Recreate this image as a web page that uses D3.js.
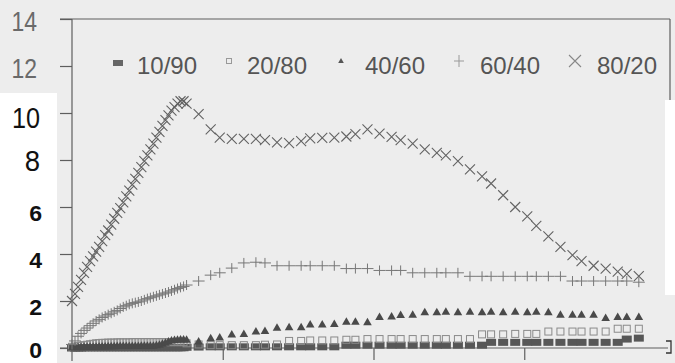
<!DOCTYPE html>
<html><head><meta charset="utf-8">
<script src="https://cdn.jsdelivr.net/npm/d3@7"></script>
<style>html,body{margin:0;padding:0;background:#fff;overflow:hidden} svg{display:block}</style>
</head><body>
<svg id="c" width="675" height="363"></svg>
<script>
// ---- data ----
const seriesNames = ["10/90", "20/80", "40/60", "60/40", "80/20"];
const time = [0,1,2,3,4,5,6,7,8,9,10,11,12,13,14,15,16,17,18,19,20,21,22,23,24,25,26,27,28,29,30,31,32,33,34,35,36,37,
  38,42,46,49,53,57,61,64,68,72,76,79,83,87,91,94,98,102,106,109,113,117,121,124,128,132,136,139,143,147,151,154,158,162,166,169,173,177,181,184,188];
const s1090 = [0.0,0.0,0.0,0.0,0.01,0.01,0.01,0.01,0.01,0.01,0.01,0.01,0.01,0.01,0.01,0.01,0.01,0.01,0.01,0.01,0.01,0.01,0.01,0.01,0.01,0.01,0.01,0.01,0.01,0.01,0.01,0.01,0.01,0.01,0.01,0.01,0.01,0.01,
  0.03,0.04,0.05,0.05,0.05,0.05,0.05,0.05,0.05,0.05,0.05,0.05,0.05,0.05,0.12,0.12,0.12,0.12,0.12,0.12,0.12,0.12,0.12,0.12,0.12,0.12,0.12,0.24,0.24,0.24,0.24,0.24,0.24,0.24,0.24,0.24,0.24,0.24,0.24,0.38,0.42];
const s2080 = [0.05,0.06,0.08,0.1,0.12,0.14,0.16,0.18,0.2,0.21,0.22,0.22,0.23,0.23,0.23,0.24,0.24,0.24,0.24,0.24,0.25,0.25,0.25,0.25,0.25,0.25,0.25,0.25,0.25,0.25,0.25,0.25,0.25,0.25,0.25,0.25,0.25,0.25,
  0.2,0.15,0.12,0.12,0.12,0.12,0.12,0.14,0.15,0.3,0.3,0.32,0.32,0.32,0.35,0.35,0.38,0.38,0.38,0.38,0.38,0.38,0.38,0.38,0.38,0.38,0.58,0.58,0.58,0.6,0.6,0.6,0.7,0.7,0.7,0.7,0.7,0.7,0.82,0.82,0.82];
const s4060 = [0.02,0.02,0.03,0.03,0.04,0.04,0.05,0.05,0.05,0.06,0.06,0.06,0.07,0.07,0.07,0.08,0.08,0.08,0.08,0.09,0.09,0.09,0.09,0.1,0.1,0.1,0.1,0.1,0.12,0.14,0.18,0.22,0.28,0.32,0.34,0.35,0.36,0.36,
  0.35,0.28,0.42,0.45,0.57,0.6,0.7,0.72,0.86,0.88,0.88,1.0,1.0,1.02,1.12,1.12,1.1,1.32,1.34,1.4,1.42,1.52,1.52,1.54,1.52,1.54,1.52,1.54,1.52,1.54,1.52,1.54,1.52,1.42,1.42,1.42,1.42,1.28,1.32,1.32,1.32];
const s6040 = [0.15,0.3,0.5,0.62,0.75,0.85,0.95,1.05,1.15,1.22,1.3,1.36,1.42,1.48,1.54,1.6,1.68,1.75,1.8,1.86,1.9,1.93,1.96,2.0,2.05,2.1,2.14,2.18,2.22,2.26,2.3,2.34,2.38,2.43,2.48,2.53,2.58,2.62,
  2.68,2.85,3.1,3.2,3.4,3.62,3.65,3.62,3.5,3.5,3.5,3.5,3.5,3.5,3.38,3.38,3.38,3.3,3.3,3.3,3.2,3.2,3.2,3.2,3.2,3.05,3.05,3.05,3.05,3.05,3.05,3.05,3.05,3.05,2.85,2.85,2.85,2.85,2.85,2.85,2.8];
const s8020 = [2.0,2.3,2.6,2.9,3.2,3.45,3.7,3.9,4.1,4.3,4.55,4.8,5.0,5.25,5.5,5.75,5.95,6.2,6.45,6.7,6.95,7.2,7.45,7.7,7.95,8.2,8.45,8.7,8.95,9.2,9.45,9.7,9.9,10.1,10.25,10.4,10.5,10.5,
  10.4,9.95,9.3,8.95,8.9,8.9,8.9,8.85,8.75,8.72,8.8,8.92,8.94,8.95,9.0,9.1,9.3,9.12,8.98,8.85,8.7,8.45,8.3,8.2,7.95,7.6,7.3,7.0,6.5,6.0,5.6,5.2,4.75,4.3,3.95,3.7,3.5,3.38,3.25,3.15,3.06];
const yTicks = [0, 2, 4, 6, 8, 10, 12, 14];
const yTickLabels = ["0", "2", "4", "6", "8", "10", "12", "14"];
const xTicks = [0, 50, 100, 150, 200];

// ---- chart ----
const svg = d3.select("#c");
const x = d3.scaleLinear().domain([0, 200]).range([72, 675]);
const y = d3.scaleLinear().domain([0, 14]).range([348, 19]);

svg.append("rect").attr("width", 675).attr("height", 363).attr("fill", "#ededed");
svg.append("rect").attr("x", 0).attr("y", 93).attr("width", 57).attr("height", 270).attr("fill", "#ffffff");
svg.append("rect").attr("x", 665).attr("y", 100).attr("width", 10).attr("height", 195).attr("fill", "#ffffff");

const axisColor = "#5e5e5e";
const gy = svg.append("g").attr("transform", "translate(72,0)")
  .call(d3.axisLeft(y).tickValues(yTicks).tickSize(12).tickFormat(""));
gy.select(".domain").remove();
gy.selectAll("line").attr("stroke", axisColor).attr("stroke-width", 1.2);
const gx = svg.append("g").attr("transform", "translate(0,348)")
  .call(d3.axisBottom(x).tickValues(xTicks.slice(1, 4)).tickSize(12).tickFormat(""));
gx.select(".domain").remove();
gx.selectAll("line").attr("stroke", axisColor).attr("stroke-width", 1.2);

svg.append("line").attr("x1", x(0)).attr("x2", x(0)).attr("y1", y(14)).attr("y2", 361).attr("stroke", axisColor).attr("stroke-width", 1.2);
svg.append("line").attr("x1", 60).attr("x2", 668).attr("y1", y(0)).attr("y2", y(0)).attr("stroke", axisColor).attr("stroke-width", 1.2);
svg.append("line").attr("x1", 60).attr("x2", 670).attr("y1", y(14)).attr("y2", y(14)).attr("stroke", axisColor).attr("stroke-width", 1.2);
svg.append("line").attr("x1", 670).attr("x2", 670).attr("y1", y(14)).attr("y2", 100).attr("stroke", axisColor).attr("stroke-width", 1.2);
svg.append("path").attr("d", "M666,341H671V353H666").attr("fill", "none").attr("stroke", "#333").attr("stroke-width", 1.3);

function labelStyle(v) {
  if (v >= 12) return {size: 27, weight: "normal", color: "#6a6a6a", sx: 0.85, right: 37, off: 12};
  if (v >= 8) return {size: 29, weight: "normal", color: "#111", sx: v === 10 ? 0.87 : 0.95, right: 40, off: v === 10 ? 15 : 11};
  return {size: 22, weight: "bold", color: "#111", sx: 1.05, right: 42, off: v === 0 ? 10 : 14};
}
yTicks.forEach((v, i) => {
  const s = labelStyle(v);
  svg.append("text")
    .attr("transform", `translate(${s.right},${y(v) + s.off}) scale(${s.sx},1)`)
    .attr("text-anchor", "end")
    .attr("font-family", "Liberation Sans, Arial, sans-serif")
    .attr("font-size", s.size).attr("font-weight", s.weight)
    .attr("fill", s.color)
    .text(yTickLabels[i]);
});

const markers = {
  "10/90": g => g.append("rect").attr("x", -5).attr("y", -3.5).attr("width", 10).attr("height", 7).attr("fill", "#575757"),
  "20/80": g => g.append("rect").attr("x", -3.5).attr("y", -3.5).attr("width", 7).attr("height", 7).attr("fill", "none").attr("stroke", "#8a8a8a").attr("stroke-width", 1),
  "40/60": g => g.append("path").attr("d", "M0,-4.5L4.3,3L-4.3,3Z").attr("fill", "#4a4a4a"),
  "60/40": g => g.append("path").attr("d", "M-6,0H6M0,-5V5").attr("stroke", "#777").attr("stroke-width", 1).attr("fill", "none"),
  "80/20": g => g.append("path").attr("d", "M-5,-5L5,5M-5,5L5,-5").attr("stroke", "#636363").attr("stroke-width", 1.1).attr("fill", "none")
};
const allSeries = [s1090, s2080, s4060, s6040, s8020];
const plot = svg.append("g");
allSeries.forEach((vals, si) => {
  const name = seriesNames[si];
  const pts = time.map((t, i) => ({t, v: vals[i]}));
  plot.append("g").selectAll("g").data(pts).join("g")
    .attr("transform", d => `translate(${x(d.t)},${y(d.v)})`)
    .each(function() { markers[name](d3.select(this)); });
});

const legMarkerX = [118, 229, 341, 459, 575];
const legTextX = [137, 247, 365, 480, 597];
const legSmall = {
  "10/90": g => g.append("rect").attr("x", -5).attr("y", -3).attr("width", 10).attr("height", 6).attr("fill", "#666"),
  "20/80": g => g.append("rect").attr("x", -2.5).attr("y", -2.5).attr("width", 5).attr("height", 5).attr("fill", "none").attr("stroke", "#999").attr("stroke-width", 1),
  "40/60": g => g.append("path").attr("d", "M0,-3L2.8,2L-2.8,2Z").attr("fill", "#555"),
  "60/40": g => g.append("path").attr("d", "M-5,0H5M0,-6V6").attr("stroke", "#999").attr("stroke-width", 1).attr("fill", "none"),
  "80/20": g => g.append("path").attr("d", "M-6,-6L6,6M-6,6L6,-6").attr("stroke", "#888").attr("stroke-width", 1.1).attr("fill", "none")
};
const leg = svg.append("g");
seriesNames.forEach((n, i) => {
  const g = leg.append("g").attr("transform", `translate(${legMarkerX[i]},${i === 0 ? 63 : 61})`);
  legSmall[n](g);
  leg.append("text").attr("x", legTextX[i]).attr("y", 73.5)
    .attr("font-family", "Liberation Sans, Arial, sans-serif")
    .attr("font-size", 24).attr("fill", "#555")
    .text(n);
});
</script>
</body></html>
